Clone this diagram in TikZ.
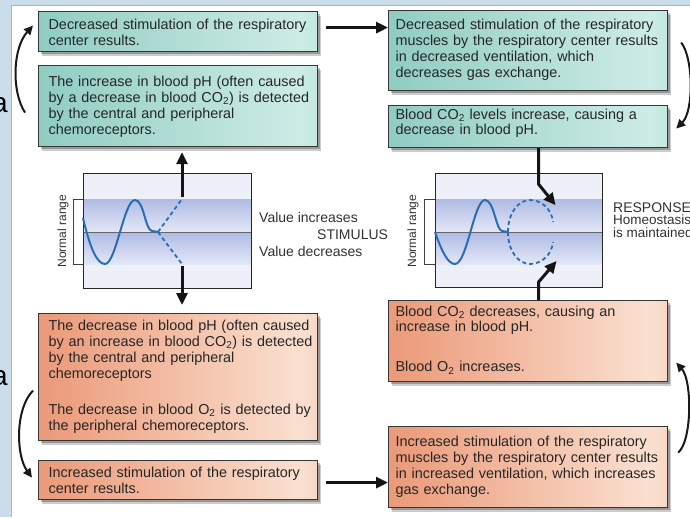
\documentclass[tikz,border=0pt]{standalone}
\usepackage{fontspec}
\setmainfont{Liberation Sans}
\usetikzlibrary{arrows.meta,shadows,calc}

% palette
\definecolor{bgblue}{HTML}{CBDCEA}
\definecolor{panelrule}{HTML}{A3B7CA}
\definecolor{boxline}{HTML}{363636}
\definecolor{txt}{HTML}{262626}
\definecolor{tealA}{HTML}{66B8AB}
\definecolor{tealB}{HTML}{96D0C6}
\definecolor{tealC}{HTML}{CDECE6}
\definecolor{tealD}{HTML}{6BBAAD}
\definecolor{oranA}{HTML}{DE7C55}
\definecolor{oranB}{HTML}{EDA081}
\definecolor{oranC}{HTML}{FAE0D0}
\definecolor{oranD}{HTML}{E2865E}
\definecolor{lav}{HTML}{EEF0F9}
\definecolor{bandD}{HTML}{AFBBE4}
\definecolor{bandL}{HTML}{E3E7F6}
\definecolor{wave}{HTML}{2A6DB5}

\pgfdeclarehorizontalshading{tealshade}{100bp}{color(0bp)=(tealA); color(30bp)=(tealB); color(72bp)=(tealC); color(100bp)=(tealD)}
\pgfdeclarehorizontalshading{oranshade}{100bp}{color(0bp)=(oranA); color(30bp)=(oranB); color(72bp)=(oranC); color(100bp)=(oranD)}

\newcommand\bxfont{\fontsize{14.4pt}{16pt}\selectfont}
\newcommand\bxtight[1]{\fontsize{14.4pt}{#1}\selectfont}
% lines of a box, set flush left without any rebreaking, optionally raised
\newcommand\lines[2][0pt]{\raisebox{#1}[\height][\depth]{\begin{tabular}{@{}l@{}}#2\end{tabular}}}

\begin{document}
\begin{tikzpicture}[x=1pt,y=-1pt,
  box/.style={draw=boxline, line width=1.2pt, anchor=north west, align=left,
    font=\bxfont, text=txt,
    drop shadow={shadow xshift=2pt, shadow yshift=-2pt, opacity=0.25, fill=black},
    drop shadow={shadow xshift=3.5pt, shadow yshift=-4pt, opacity=0.2, fill=black}},
  lbox/.style={box, text width=259pt, inner xsep=10pt, minimum width=279pt},
  rbox/.style={box, text width=265pt, inner xsep=7pt, minimum width=279pt},
  teal/.style={shading=tealshade},
  oran/.style={shading=oranshade},
  bigarr/.style={draw=black!92, line width=3pt, -{Triangle[length=12pt,width=11pt]}},
  curvarr/.style={draw=black!90, line width=2pt, -{Triangle[length=9pt,width=8.5pt]}},
  wavel/.style={draw=wave, line width=2pt},
  dashl/.style={draw=wave, line width=1.8pt, dash pattern=on 4pt off 3pt},
  lbl/.style={font=\fontsize{14pt}{16pt}\selectfont, text=black!80, inner sep=0pt},
  graphbox/.style={draw=black!85, line width=1pt, anchor=north west, inner sep=0pt,
    minimum width=168pt, minimum height=115pt},
  brk/.style={draw=black!75, line width=0.9pt},
  midl/.style={draw=black!60, line width=0.8pt},
  rng/.style={font=\fontsize{12pt}{14pt}\selectfont, text=black!80, rotate=90, inner sep=0pt},
  bigletter/.style={font=\fontsize{28pt}{30pt}\selectfont, anchor=base east, inner sep=0pt}
]
\useasboundingbox (0,0) rectangle (690,517);
\clip (0,0) rectangle (690,517);

% page background and white panel
\fill[bgblue] (0,0) rectangle (690,517);
\fill[white] (11,5) rectangle (690,517);
\draw[panelrule, line width=1pt] (11,517) -- (11,5) -- (690,5);
\node[bigletter] (la) at (8,112) {a};
\node[bigletter] (lb) at (8,385) {a};

% upper (teal) boxes
\node[lbox, teal, minimum height=40pt] (b1) at (38,11)
  {\lines[-3pt]{Decreased stimulation of the respiratory\\center results.}};
\node[lbox, teal, minimum height=81pt] (b2) at (38,65)
  {\lines[-1pt]{The increase in blood pH (often caused\\by a decrease in blood CO\textsubscript{2}) is detected\\by the central and peripheral\\chemoreceptors.}};
\node[rbox, teal, minimum height=80pt] (b3) at (388,10)
  {\lines{Decreased stimulation of the respiratory\\muscles by the respiratory center results\\in decreased ventilation, which\\decreases gas exchange.}};
\node[rbox, teal, minimum height=42pt, font=\bxtight{13pt}] (b4) at (388,105)
  {\lines[3pt]{Blood CO\textsubscript{2} levels increase, causing a\\decrease in blood pH.}};

% lower (orange) boxes
\node[lbox, oran, minimum height=127pt] (b5) at (38,313)
  {\lines{The decrease in blood pH (often caused\\by an increase in blood CO\textsubscript{2}) is detected\\by the central and peripheral\\chemoreceptors\\[20pt]The decrease in blood O\textsubscript{2} is detected by\\the peripheral chemoreceptors.}};
\node[lbox, oran, minimum height=39pt] (b6) at (38,460)
  {\lines[-2pt]{Increased stimulation of the respiratory\\center results.}};
\node[rbox, oran, minimum height=81pt, font=\bxtight{14pt}] (b7) at (388,300)
  {\lines{Blood CO\textsubscript{2} decreases, causing an\\increase in blood pH.\\[26pt]Blood O\textsubscript{2} increases.}};
\node[rbox, oran, minimum height=81pt] (b8) at (388,426)
  {\lines{Increased stimulation of the respiratory\\muscles by the respiratory center results\\in increased ventilation, which increases\\gas exchange.}};

% left graph: stimulus
\fill[lav] (83,173) rectangle (251,288);
\shade[top color=bandD, bottom color=bandL] (83,199) rectangle (251,232);
\shade[top color=bandD, bottom color=bandL] (83,232) rectangle (251,264);
\draw[midl] (83,232) -- (251,232);
\node[graphbox] (g1) at (83,173) {};
\draw[brk] (g1.west |- 0,199) -- (73,199) -- (73,264) -- (g1.west |- 0,264);
\node[rng] (r1) at (63,231) {Normal range};
\draw[wavel] (83,218) .. controls (90,248) and (97,264) .. (105,264)
  .. controls (116,264) and (124,200) .. (135,200)
  .. controls (144,200) and (145,230) .. (152,231) -- (158,232);
\draw[dashl] (158,232) -- (182,199);
\draw[dashl] (158,232) -- (182,264);
\coordinate (u1) at (182,197);
\coordinate (d1) at (182,266);
\draw[bigarr, shorten >=5pt] (u1) -- (u1 |- b2.south);
\draw[bigarr, shorten >=8pt] (d1) -- (d1 |- b5.north);

\node[lbl, anchor=base west] (vi) at (259,222) {Value increases};
\node[lbl, anchor=base west] (st) at (317,239) {STIMULUS};
\node[lbl, anchor=base west] (vd) at (259,256) {Value decreases};

% right graph: response
\fill[lav] (435,173) rectangle (602,287);
\shade[top color=bandD, bottom color=bandL] (435,199) rectangle (602,232);
\shade[top color=bandD, bottom color=bandL] (435,232) rectangle (602,264);
\draw[midl] (435,232) -- (602,232);
\node[graphbox, minimum width=167pt, minimum height=114pt] (g2) at (435,173) {};
\draw[brk] (g2.west |- 0,199) -- (424,199) -- (424,264) -- (g2.west |- 0,264);
\node[rng] (r2) at (413,231) {Normal range};
\draw[wavel] (435,232) .. controls (442,252) and (448,264) .. (455,264)
  .. controls (467,264) and (474,200) .. (485,200)
  .. controls (494,200) and (496,230) .. (502,231) -- (508,232);
\draw[dashl] (508,232) .. controls (508,212) and (519,200) .. (530,200)
  .. controls (542,200) and (552,210) .. (553,222);
\draw[dashl] (508,232) .. controls (508,252) and (519,264) .. (530,264)
  .. controls (542,264) and (552,254) .. (553,242);
\draw[bigarr] ([xshift=10.5pt]b4.south) -- ++(0,36) -- ++(17,21);
\draw[bigarr] ([xshift=10.5pt]b7.north) -- ++(0,-18) -- ++(18,-21);

\node[lbl, anchor=base west] (rs) at (613,212) {RESPONSE};
\node[anchor=north west, inner sep=0pt, align=left, text=black!80,
  font=\fontsize{13.5pt}{12.5pt}\selectfont] (hm) at (613,215)
  {Homeostasis\\is maintained};

% straight connectors between boxes
\coordinate (h1) at ([shift={(8,-4)}]b1.east);
\draw[bigarr] (h1) -- (h1 -| b3.west);
\coordinate (h2) at ([shift={(8,2.5)}]b6.east);
\draw[bigarr] (h2) -- (h2 -| b8.west);

% curved connectors on the outer sides
\draw[curvarr] ([shift={(-13,6.5)}]b2.west) .. controls +(-14,-22) and +(-20,22) .. ([shift={(-5,-6)}]b1.west);
\draw[curvarr] ([shift={(-5,13.5)}]b5.west) .. controls +(-18,18) and +(-16,-22) .. ([shift={(-6,-2.5)}]b6.west);
\draw[curvarr] ([shift={(13,-8)}]b3.east) .. controls +(12,15) and +(18,-18) .. ([shift={(8,2)}]b4.east);
\draw[curvarr] ([shift={(10,-14.5)}]b8.east) .. controls +(14,-12) and +(16,18) .. ([shift={(8,21.5)}]b7.east);
\end{tikzpicture}
\end{document}
